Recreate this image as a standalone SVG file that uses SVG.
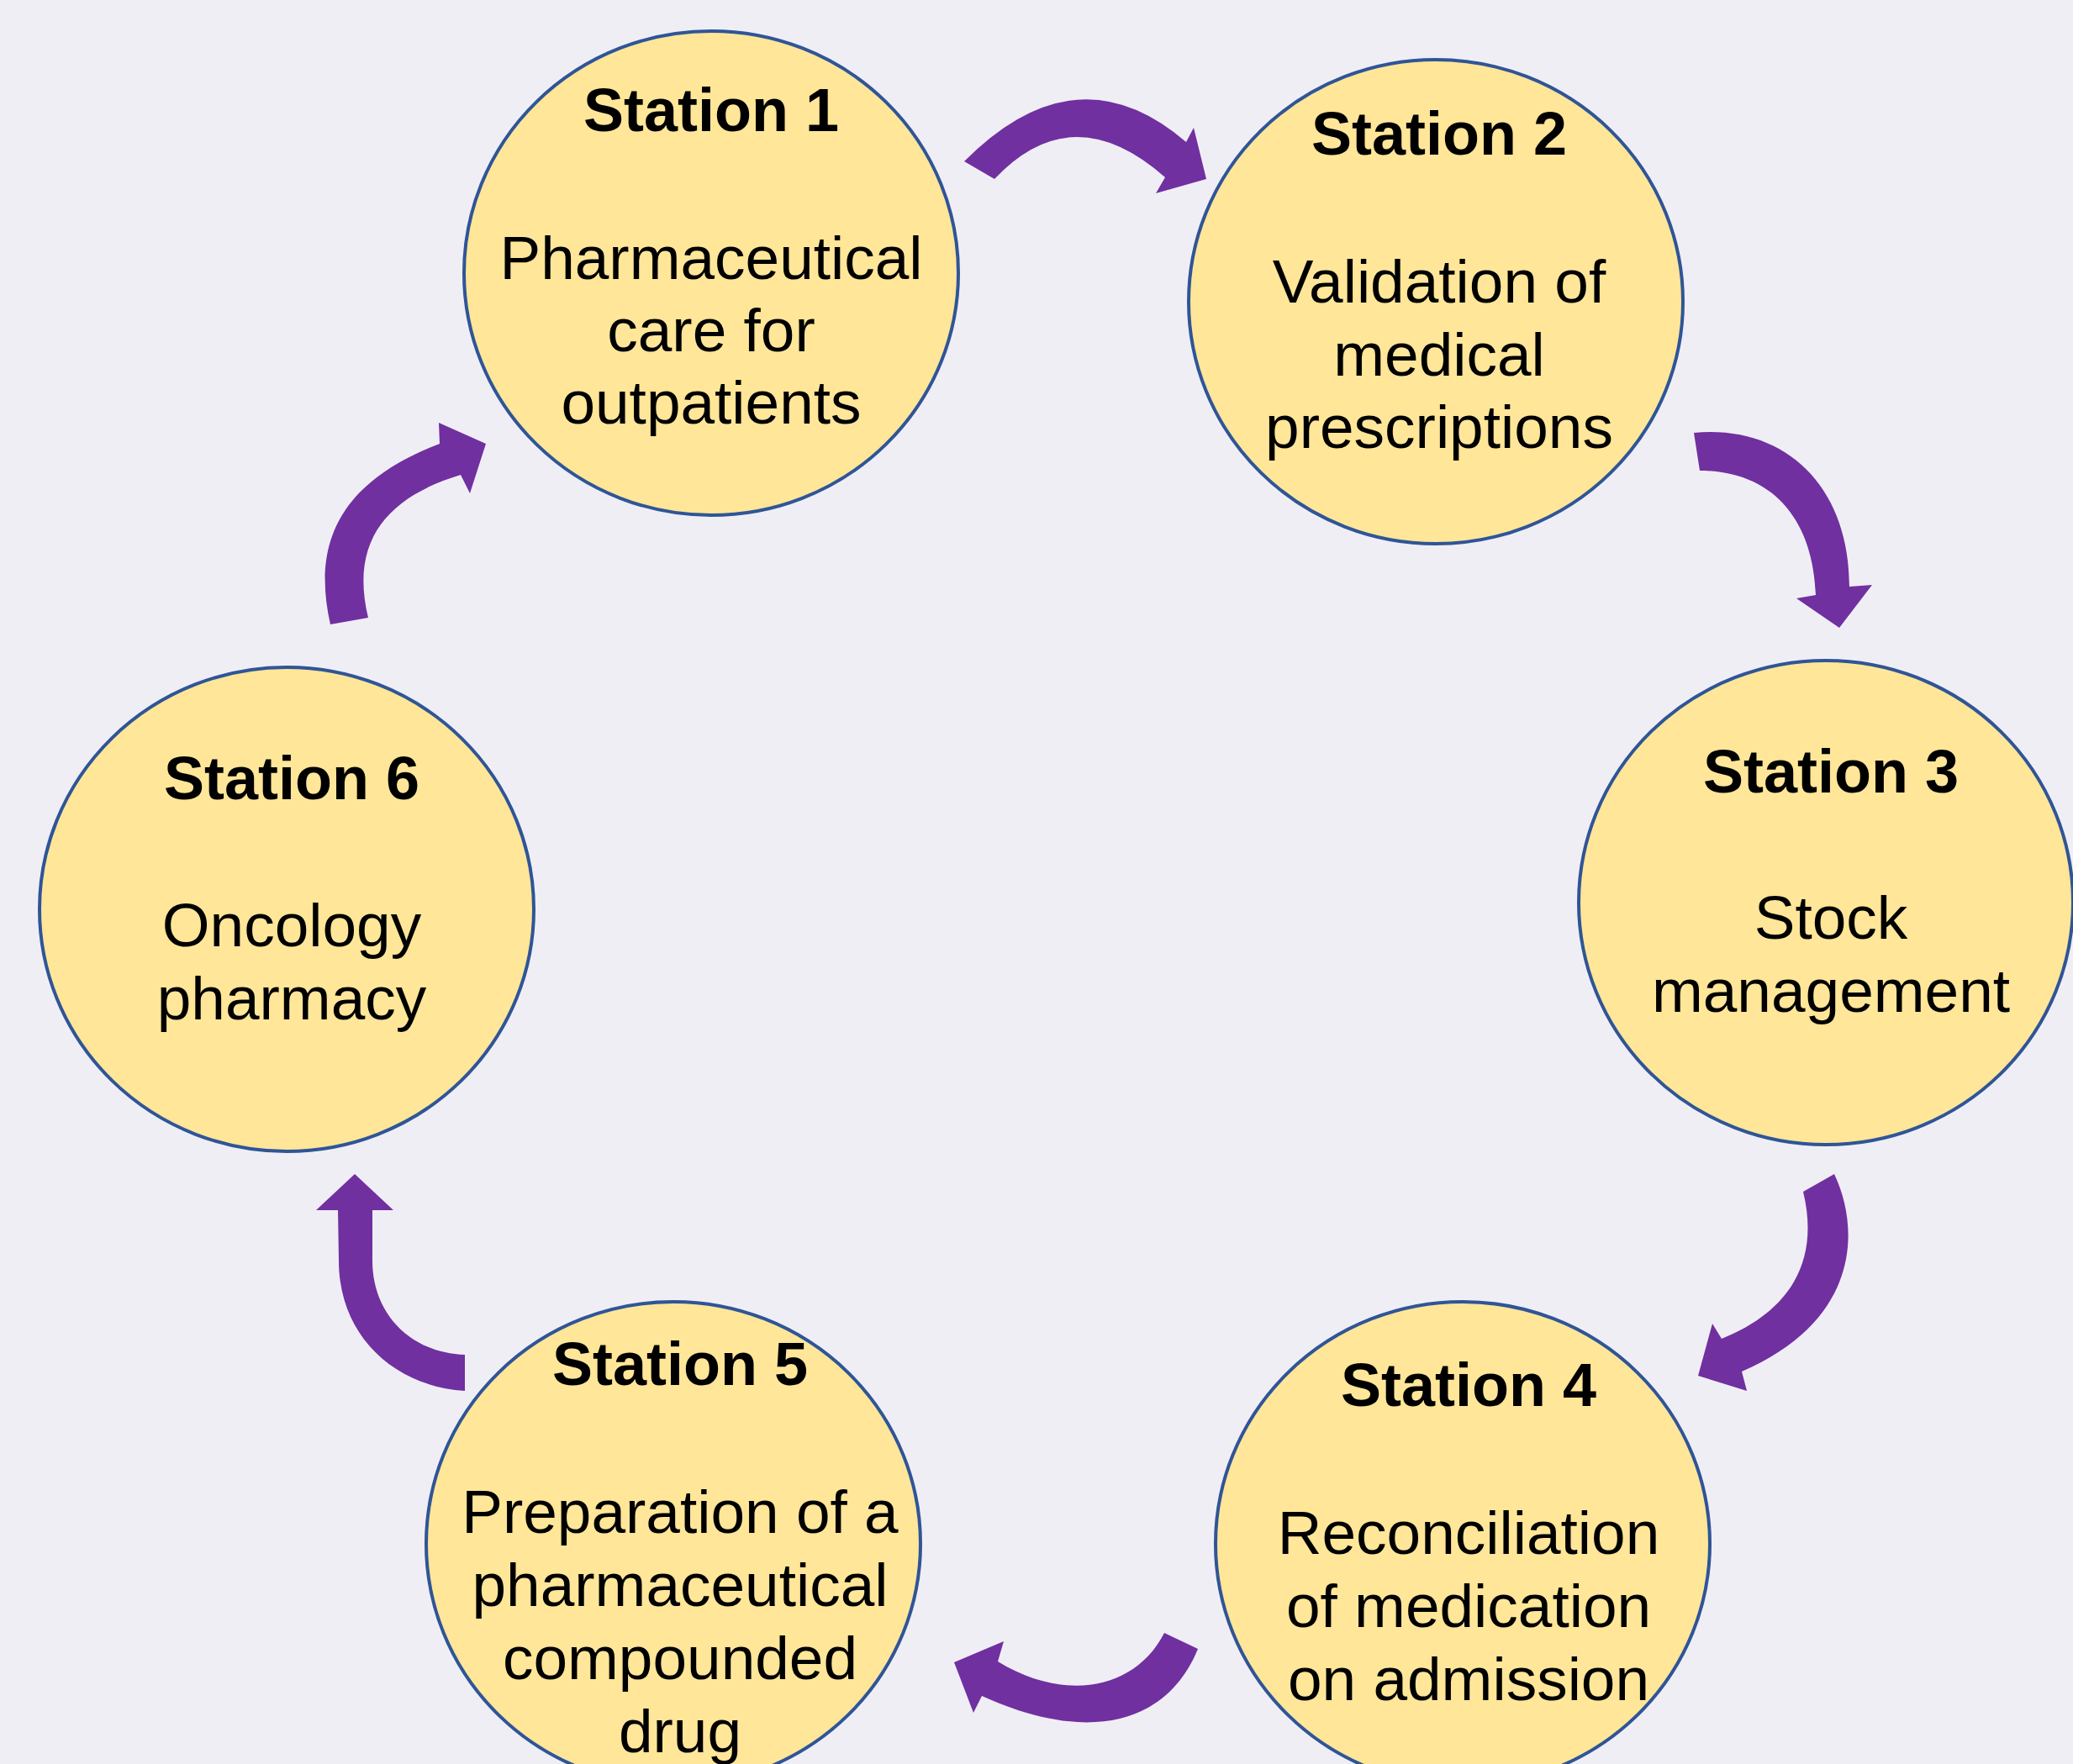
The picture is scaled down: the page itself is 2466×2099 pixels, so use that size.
<svg xmlns="http://www.w3.org/2000/svg" width="2466" height="2099" viewBox="0 0 2466 2099">
<style>
.node ellipse{fill:#FFE699;stroke:#2F5597;stroke-width:4}
.title{font-family:"Liberation Sans",Arial,sans-serif;font-weight:bold;font-size:72px;fill:#000;text-anchor:middle}
.body{font-family:"Liberation Sans",Arial,sans-serif;font-size:73px;fill:#000;text-anchor:middle}
.arrow{fill:#7030A0;stroke:none}
</style>
<rect x="0" y="0" width="2466" height="2099" fill="#F0EEF5"/>
<g id="connectors">
<path class="arrow" d="M 1147,192 Q 1281,57 1411,169 L 1420,152 L 1435,213 L 1375,230 L 1386,211 Q 1276,114 1183,213 Z"/>
<path class="arrow" d="M 2015,515 C 2125,505 2200,580 2200,698 L 2227,696 L 2188,747 L 2137,712 L 2160,708 C 2157,620 2110,560 2022,560 Z"/>
<path class="arrow" d="M 2182,1397 C 2212,1460 2215,1570 2072,1632 L 2078,1655 L 2020,1637 L 2037,1575 L 2048,1593 C 2130,1560 2165,1500 2145,1418 Z"/>
<path class="arrow" d="M 1425,1962 C 1390,2048 1300,2078 1168,2018 L 1158,2038 L 1135,1978 L 1194,1953 L 1187,1977 C 1265,2025 1350,2012 1385,1943 Z"/>
<path class="arrow" d="M 553,1655 C 470,1650 403,1590 403,1500 L 402,1440 L 376,1440 L 422,1397 L 468,1440 L 443,1440 L 443,1500 C 443,1565 490,1610 553,1612 Z"/>
<path class="arrow" d="M 393,743 C 372,650 400,575 523,528 L 522,503 L 578,528 L 559,587 L 548,565 C 465,590 415,640 438,735 Z"/>
</g>
<g id="station1" class="node">
<ellipse cx="846" cy="325" rx="294" ry="288"/>
<text class="title" x="846" y="156">Station 1</text>
<text class="body" x="846" y="332">Pharmaceutical</text>
<text class="body" x="846" y="418">care for</text>
<text class="body" x="846" y="504">outpatients</text>
</g>
<g id="station2" class="node">
<ellipse cx="1708" cy="359" rx="294" ry="288"/>
<text class="title" x="1712" y="184">Station 2</text>
<text class="body" x="1712" y="360">Validation of</text>
<text class="body" x="1712" y="447">medical</text>
<text class="body" x="1712" y="533">prescriptions</text>
</g>
<g id="station3" class="node">
<ellipse cx="2172" cy="1074" rx="294" ry="288"/>
<text class="title" x="2178" y="943">Station 3</text>
<text class="body" x="2178" y="1117">Stock</text>
<text class="body" x="2178" y="1204">management</text>
</g>
<g id="station4" class="node">
<ellipse cx="1740" cy="1837" rx="294" ry="288"/>
<text class="title" x="1747" y="1673">Station 4</text>
<text class="body" x="1747" y="1849">Reconciliation</text>
<text class="body" x="1747" y="1936">of medication</text>
<text class="body" x="1747" y="2023">on admission</text>
</g>
<g id="station5" class="node">
<ellipse cx="801" cy="1837" rx="294" ry="288"/>
<text class="title" x="809" y="1648">Station 5</text>
<text class="body" x="809" y="1824">Preparation of a</text>
<text class="body" x="809" y="1911">pharmaceutical</text>
<text class="body" x="809" y="1998">compounded</text>
<text class="body" x="809" y="2085">drug</text>
</g>
<g id="station6" class="node">
<ellipse cx="341" cy="1082" rx="294" ry="288"/>
<text class="title" x="347" y="951">Station 6</text>
<text class="body" x="347" y="1126">Oncology</text>
<text class="body" x="347" y="1213">pharmacy</text>
</g>
</svg>
